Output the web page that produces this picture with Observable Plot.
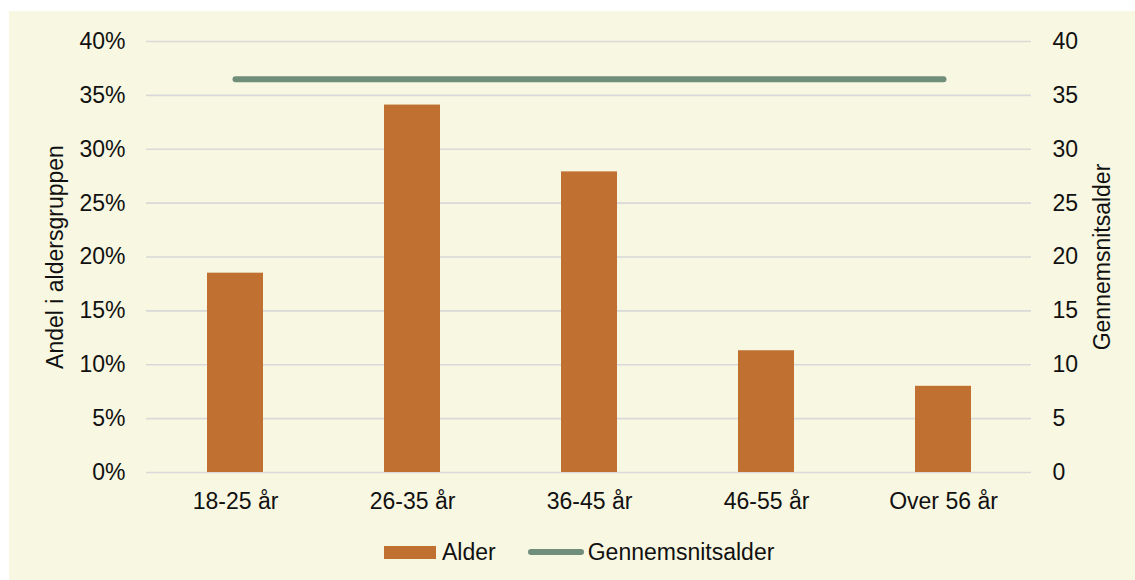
<!DOCTYPE html>
<html>
<head>
<meta charset="utf-8">
<script src="https://cdn.jsdelivr.net/npm/d3@7"></script>
<script src="https://cdn.jsdelivr.net/npm/@observablehq/plot@0.6"></script>
<style>
  html, body { margin: 0; padding: 0; background: #ffffff; }
  #panel {
    position: absolute; left: 9px; top: 11px; width: 1126px; height: 569px;
    background: #f8f7e1; font-family: "Liberation Sans", Arial, sans-serif;
  }
  #chart svg { display: block; background: transparent; }
  #legend {
    position: absolute; left: 375px; top: 516px; height: 50px;
    display: flex; align-items: center; font-size: 23px; color: #111;
  }
  .sw-bar { width: 52px; height: 13px; background: #c07030; margin-right: 6px; }
  .sw-line { width: 56px; height: 6px; border-radius: 3px; background: #718e7a; margin-left: 32px; margin-right: 4px; }
</style>
</head>
<body>
<div id="panel">
  <div id="chart"></div>
  <div id="legend">
    <div class="sw-bar"></div><span>Alder</span>
    <div class="sw-line"></div><span>Gennemsnitsalder</span>
  </div>
</div>
<script>
const categories = ["18-25 år", "26-35 år", "36-45 år", "46-55 år", "Over 56 år"];
const andel = [18.5, 34.1, 27.9, 11.3, 8.0];           // percent of age group
const gennemsnitsalder = [36.5, 36.5, 36.5, 36.5, 36.5]; // average age
const yTicks = [0, 5, 10, 15, 20, 25, 30, 35, 40];

const rows = categories.map((c, i) => ({ kat: c, andel: andel[i], snit: gennemsnitsalder[i] }));

const chart = Plot.plot({
  width: 1126,
  height: 515,
  marginTop: 30,
  marginBottom: 54,
  marginLeft: 137,
  marginRight: 104,
  style: { fontFamily: "Liberation Sans, Arial, sans-serif", fontSize: "23px", color: "#111", background: "transparent" },
  x: { domain: categories, paddingInner: 0.684, paddingOuter: 0.342, label: null },
  y: { domain: [0, 40], label: null },
  marks: [
    Plot.ruleY(yTicks, { stroke: "#d9d9d9", strokeWidth: 1.6 }),
    Plot.barY(rows, { x: "kat", y: "andel", fill: "#c07030" }),
    Plot.lineY(rows, { x: "kat", y: "snit", stroke: "#718e7a", strokeWidth: 6, strokeLinecap: "round" }),
    Plot.axisX({ tickSize: 0, tickPadding: 20, fontSize: 23, label: null }),
    Plot.axisY({ anchor: "left", ticks: yTicks, tickSize: 0, tickPadding: 21, tickFormat: d => d + "%", fontSize: 23, label: null }),
    Plot.axisY({ anchor: "right", ticks: yTicks, tickSize: 0, tickPadding: 21, tickFormat: d => String(d), fontSize: 23, label: null }),
    Plot.text(["Andel i aldersgruppen"], { frameAnchor: "left", textAnchor: "middle", dx: -91, rotate: -90, fontSize: 23, fill: "#111" }),
    Plot.text(["Gennemsnitsalder"], { frameAnchor: "right", textAnchor: "middle", dx: 71, rotate: -90, fontSize: 23, fill: "#111" })
  ]
});
document.getElementById("chart").appendChild(chart);
</script>
</body>
</html>
